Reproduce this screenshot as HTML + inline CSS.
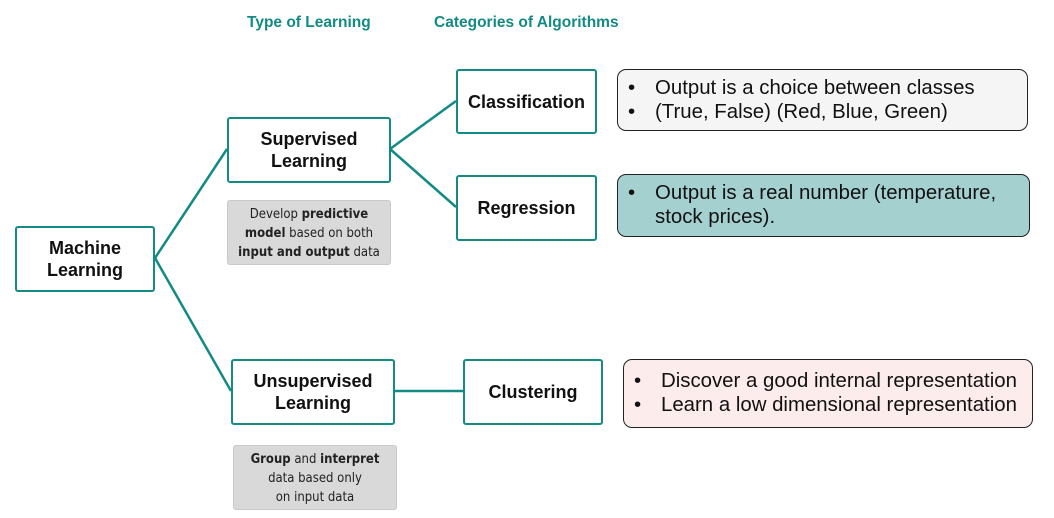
<!DOCTYPE html>
<html><head><meta charset="utf-8"><style>
body{margin:0;width:1054px;height:518px;background:#fff;position:relative;font-family:"Liberation Sans",sans-serif;overflow:hidden}
.b{position:absolute;box-sizing:border-box;border:2.5px solid #138a84;border-radius:3px;background:#fff;display:flex;align-items:center;justify-content:center;text-align:center;font-weight:bold;font-size:18px;line-height:22px;color:#111}
.g{position:absolute;box-sizing:border-box;border:1px solid #c8c8c8;border-radius:3px;background:#d9d9d9;text-align:center;font-size:13px;line-height:19px;color:#222;padding-top:4px;font-family:"DejaVu Sans Condensed","Liberation Sans Narrow","Liberation Sans",sans-serif}
.r{position:absolute;box-sizing:border-box;border:1.5px solid #222;border-radius:9px;font-size:20.4px;line-height:24px;color:#111;padding:6px 0 0 0;white-space:nowrap}
.r div{position:relative;padding-left:37px}
.r div span{position:absolute;left:10px}
.h{position:absolute;top:14px;color:#138a84;font-weight:bold;font-size:15.5px}
</style></head><body>
<svg style="position:absolute;left:0;top:0" width="1054" height="518"><g stroke="#138a84" stroke-width="2.5" fill="none">
<line x1="155" y1="258" x2="227" y2="149"/>
<line x1="155" y1="258" x2="231" y2="391"/>
<line x1="390" y1="149" x2="456" y2="101"/>
<line x1="390" y1="149" x2="456" y2="207"/>
<line x1="394" y1="391" x2="463" y2="391"/>
</g></svg>
<div class="h" style="left:247px">Type of Learning</div>
<div class="h" style="left:434px">Categories of Algorithms</div>
<div class="b" style="left:15px;top:226px;width:140px;height:66px">Machine<br>Learning</div>
<div class="b" style="left:227px;top:117px;width:164px;height:66px">Supervised<br>Learning</div>
<div class="g" style="left:227px;top:200px;width:164px;height:65px">Develop <b>predictive</b><br><b>model</b> based on both<br><b>input and output</b> data</div>
<div class="b" style="left:456px;top:69px;width:141px;height:65px">Classification</div>
<div class="b" style="left:456px;top:175px;width:141px;height:66px">Regression</div>
<div class="b" style="left:231px;top:359px;width:164px;height:66px">Unsupervised<br>Learning</div>
<div class="g" style="left:233px;top:445px;width:164px;height:65px"><b>Group</b> and <b>interpret</b><br>data based only<br>on input data</div>
<div class="b" style="left:463px;top:359px;width:140px;height:66px">Clustering</div>
<div class="r" style="left:617px;top:69px;width:411px;height:62px;background:#f5f5f5"><div><span>•</span>Output is a choice between classes</div><div><span>•</span>(True, False) (Red, Blue, Green)</div></div>
<div class="r" style="left:617px;top:174px;width:413px;height:63px;background:#a5d0d0"><div><span>•</span>Output is a real number (temperature,<br>stock prices).</div></div>
<div class="r" style="left:623px;top:359px;width:410px;height:69px;background:#fdecec;padding-top:9px"><div><span>•</span>Discover a good internal representation</div><div><span>•</span>Learn a low dimensional representation</div></div>
</body></html>
